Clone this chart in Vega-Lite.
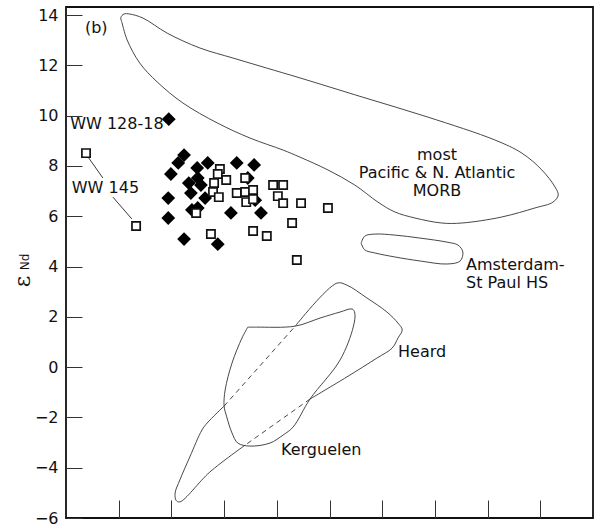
{
  "$schema": "https://vega.github.io/schema/vega-lite/v6.json",
  "width": 527,
  "height": 511,
  "autosize": {"type": "none"},
  "padding": {"left": 66, "top": 7, "right": 2, "bottom": 6},
  "background": "white",
  "config": {
    "view": {"stroke": "#111", "strokeWidth": 1.8},
    "font": "DejaVu Sans",
    "axis": {"grid": false, "domain": false}
  },
  "datasets": {
    "outlines": [
      {"seg": "MORB", "i": 0, "x": 1.06, "y": 13.72},
      {"seg": "MORB", "i": 1, "x": 1.04, "y": 13.9},
      {"seg": "MORB", "i": 2, "x": 1.1, "y": 14.04},
      {"seg": "MORB", "i": 3, "x": 1.21, "y": 14.04},
      {"seg": "MORB", "i": 4, "x": 1.46, "y": 13.88},
      {"seg": "MORB", "i": 5, "x": 1.92, "y": 13.28},
      {"seg": "MORB", "i": 6, "x": 2.54, "y": 12.69},
      {"seg": "MORB", "i": 7, "x": 3.17, "y": 12.29},
      {"seg": "MORB", "i": 8, "x": 3.81, "y": 11.89},
      {"seg": "MORB", "i": 9, "x": 4.44, "y": 11.5},
      {"seg": "MORB", "i": 10, "x": 5.62, "y": 10.74},
      {"seg": "MORB", "i": 11, "x": 6.87, "y": 9.94},
      {"seg": "MORB", "i": 12, "x": 8.14, "y": 9.03},
      {"seg": "MORB", "i": 13, "x": 8.65, "y": 8.51},
      {"seg": "MORB", "i": 14, "x": 9.03, "y": 7.84},
      {"seg": "MORB", "i": 15, "x": 9.28, "y": 7.16},
      {"seg": "MORB", "i": 16, "x": 9.34, "y": 6.84},
      {"seg": "MORB", "i": 17, "x": 9.24, "y": 6.56},
      {"seg": "MORB", "i": 18, "x": 8.9, "y": 6.33},
      {"seg": "MORB", "i": 19, "x": 8.27, "y": 5.97},
      {"seg": "MORB", "i": 20, "x": 7.51, "y": 5.73},
      {"seg": "MORB", "i": 21, "x": 7.13, "y": 5.73},
      {"seg": "MORB", "i": 22, "x": 6.62, "y": 5.93},
      {"seg": "MORB", "i": 23, "x": 6.24, "y": 6.17},
      {"seg": "MORB", "i": 24, "x": 5.92, "y": 6.56},
      {"seg": "MORB", "i": 25, "x": 5.48, "y": 7.24},
      {"seg": "MORB", "i": 26, "x": 4.97, "y": 7.84},
      {"seg": "MORB", "i": 27, "x": 4.44, "y": 8.35},
      {"seg": "MORB", "i": 28, "x": 4.12, "y": 8.63},
      {"seg": "MORB", "i": 29, "x": 3.49, "y": 9.11},
      {"seg": "MORB", "i": 30, "x": 2.87, "y": 9.71},
      {"seg": "MORB", "i": 31, "x": 2.22, "y": 10.5},
      {"seg": "MORB", "i": 32, "x": 1.73, "y": 11.34},
      {"seg": "MORB", "i": 33, "x": 1.4, "y": 12.09},
      {"seg": "MORB", "i": 34, "x": 1.16, "y": 13.01},
      {"seg": "MORB", "i": 35, "x": 1.06, "y": 13.72},

      {"seg": "Amsterdam", "i": 0, "x": 5.6, "y": 4.93},
      {"seg": "Amsterdam", "i": 1, "x": 5.67, "y": 5.21},
      {"seg": "Amsterdam", "i": 2, "x": 5.86, "y": 5.29},
      {"seg": "Amsterdam", "i": 3, "x": 6.24, "y": 5.25},
      {"seg": "Amsterdam", "i": 4, "x": 6.72, "y": 5.13},
      {"seg": "Amsterdam", "i": 5, "x": 7.23, "y": 4.97},
      {"seg": "Amsterdam", "i": 6, "x": 7.44, "y": 4.85},
      {"seg": "Amsterdam", "i": 7, "x": 7.53, "y": 4.58},
      {"seg": "Amsterdam", "i": 8, "x": 7.48, "y": 4.22},
      {"seg": "Amsterdam", "i": 9, "x": 7.23, "y": 4.1},
      {"seg": "Amsterdam", "i": 10, "x": 6.72, "y": 4.22},
      {"seg": "Amsterdam", "i": 11, "x": 6.24, "y": 4.38},
      {"seg": "Amsterdam", "i": 12, "x": 5.86, "y": 4.54},
      {"seg": "Amsterdam", "i": 13, "x": 5.67, "y": 4.66},
      {"seg": "Amsterdam", "i": 14, "x": 5.6, "y": 4.93},

      {"seg": "Kerguelen", "i": 0, "x": 3.45, "y": 1.59},
      {"seg": "Kerguelen", "i": 1, "x": 3.62, "y": 1.59},
      {"seg": "Kerguelen", "i": 2, "x": 4.35, "y": 1.63},
      {"seg": "Kerguelen", "i": 3, "x": 4.82, "y": 1.95},
      {"seg": "Kerguelen", "i": 4, "x": 5.2, "y": 2.19},
      {"seg": "Kerguelen", "i": 5, "x": 5.43, "y": 2.31},
      {"seg": "Kerguelen", "i": 6, "x": 5.48, "y": 2.15},
      {"seg": "Kerguelen", "i": 7, "x": 5.45, "y": 1.59},
      {"seg": "Kerguelen", "i": 8, "x": 5.2, "y": 0.28},
      {"seg": "Kerguelen", "i": 9, "x": 4.63, "y": -1.27},
      {"seg": "Kerguelen", "i": 10, "x": 4.31, "y": -2.38},
      {"seg": "Kerguelen", "i": 11, "x": 4.12, "y": -2.7},
      {"seg": "Kerguelen", "i": 12, "x": 3.87, "y": -3.02},
      {"seg": "Kerguelen", "i": 13, "x": 3.49, "y": -3.14},
      {"seg": "Kerguelen", "i": 14, "x": 3.26, "y": -3.02},
      {"seg": "Kerguelen", "i": 15, "x": 3.15, "y": -2.62},
      {"seg": "Kerguelen", "i": 16, "x": 3.05, "y": -1.98},
      {"seg": "Kerguelen", "i": 17, "x": 3.0, "y": -1.55},
      {"seg": "Kerguelen", "i": 18, "x": 3.02, "y": -0.91},
      {"seg": "Kerguelen", "i": 19, "x": 3.15, "y": 0.16},
      {"seg": "Kerguelen", "i": 20, "x": 3.34, "y": 1.16},
      {"seg": "Kerguelen", "i": 21, "x": 3.45, "y": 1.59},

      {"seg": "Heard lower", "i": 0, "x": 3.4, "y": -3.1},
      {"seg": "Heard lower", "i": 1, "x": 2.73, "y": -4.17},
      {"seg": "Heard lower", "i": 2, "x": 2.16, "y": -5.36},
      {"seg": "Heard lower", "i": 3, "x": 2.09, "y": -5.3},
      {"seg": "Heard lower", "i": 4, "x": 2.07, "y": -5.01},
      {"seg": "Heard lower", "i": 5, "x": 2.16, "y": -4.49},
      {"seg": "Heard lower", "i": 6, "x": 2.35, "y": -3.57},
      {"seg": "Heard lower", "i": 7, "x": 2.58, "y": -2.5},
      {"seg": "Heard lower", "i": 8, "x": 2.68, "y": -2.22},
      {"seg": "Heard lower", "i": 9, "x": 3.0, "y": -1.55},

      {"seg": "Heard upper", "i": 0, "x": 4.35, "y": 1.63},
      {"seg": "Heard upper", "i": 1, "x": 5.14, "y": 3.34},
      {"seg": "Heard upper", "i": 2, "x": 5.33, "y": 3.26},
      {"seg": "Heard upper", "i": 3, "x": 5.71, "y": 2.75},
      {"seg": "Heard upper", "i": 4, "x": 6.09, "y": 2.19},
      {"seg": "Heard upper", "i": 5, "x": 6.3, "y": 1.75},
      {"seg": "Heard upper", "i": 6, "x": 6.38, "y": 1.48},
      {"seg": "Heard upper", "i": 7, "x": 6.3, "y": 1.16},
      {"seg": "Heard upper", "i": 8, "x": 6.19, "y": 0.76},
      {"seg": "Heard upper", "i": 9, "x": 5.9, "y": 0.36},
      {"seg": "Heard upper", "i": 10, "x": 5.33, "y": -0.39},
      {"seg": "Heard upper", "i": 11, "x": 4.63, "y": -1.27}
    ],
    "hidden": [
      {"seg": "Heard a", "i": 0, "x": 3.0, "y": -1.55},
      {"seg": "Heard a", "i": 1, "x": 4.35, "y": 1.63},
      {"seg": "Heard b", "i": 0, "x": 4.63, "y": -1.27},
      {"seg": "Heard b", "i": 1, "x": 3.4, "y": -3.1}
    ],
    "samples": [
      {"group": "A", "x": 2.24, "y": 8.43},
      {"group": "A", "x": 2.13, "y": 8.12},
      {"group": "A", "x": 1.99, "y": 7.68},
      {"group": "A", "x": 1.94, "y": 6.72},
      {"group": "A", "x": 1.94, "y": 5.93},
      {"group": "A", "x": 2.24, "y": 5.09},
      {"group": "A", "x": 2.88, "y": 4.89},
      {"group": "A", "x": 1.95, "y": 9.86},
      {"group": "A", "x": 2.69, "y": 8.12},
      {"group": "A", "x": 2.49, "y": 7.92},
      {"group": "A", "x": 2.5, "y": 7.52},
      {"group": "A", "x": 2.33, "y": 7.32},
      {"group": "A", "x": 2.56, "y": 7.24},
      {"group": "A", "x": 2.37, "y": 6.92},
      {"group": "A", "x": 2.64, "y": 6.72},
      {"group": "A", "x": 2.39, "y": 6.25},
      {"group": "A", "x": 2.5, "y": 6.33},
      {"group": "A", "x": 3.13, "y": 6.13},
      {"group": "A", "x": 3.24, "y": 8.12},
      {"group": "A", "x": 3.57, "y": 8.04},
      {"group": "A", "x": 3.45, "y": 7.52},
      {"group": "A", "x": 3.7, "y": 6.13},
      {"group": "A", "x": 3.59, "y": 6.64},
      {"group": "B", "x": 0.38, "y": 8.51},
      {"group": "B", "x": 1.33, "y": 5.61},
      {"group": "B", "x": 2.92, "y": 7.88},
      {"group": "B", "x": 2.88, "y": 7.68},
      {"group": "B", "x": 3.04, "y": 7.44},
      {"group": "B", "x": 2.81, "y": 7.32},
      {"group": "B", "x": 2.79, "y": 6.96},
      {"group": "B", "x": 2.9, "y": 6.76},
      {"group": "B", "x": 2.47, "y": 6.13},
      {"group": "B", "x": 2.75, "y": 5.29},
      {"group": "B", "x": 3.4, "y": 7.52},
      {"group": "B", "x": 3.24, "y": 6.92},
      {"group": "B", "x": 3.4, "y": 6.96},
      {"group": "B", "x": 3.55, "y": 7.04},
      {"group": "B", "x": 3.42, "y": 6.56},
      {"group": "B", "x": 3.55, "y": 6.68},
      {"group": "B", "x": 3.93, "y": 7.24},
      {"group": "B", "x": 4.12, "y": 7.24},
      {"group": "B", "x": 4.02, "y": 6.8},
      {"group": "B", "x": 4.12, "y": 6.52},
      {"group": "B", "x": 4.46, "y": 6.52},
      {"group": "B", "x": 4.97, "y": 6.33},
      {"group": "B", "x": 4.29, "y": 5.73},
      {"group": "B", "x": 3.55, "y": 5.41},
      {"group": "B", "x": 3.81, "y": 5.21},
      {"group": "B", "x": 4.38, "y": 4.26}
    ],
    "leaders": [
      {"x": 0.42, "y": 8.35, "x2": 0.7, "y2": 7.52},
      {"x": 0.89, "y": 6.76, "x2": 1.25, "y2": 5.89}
    ],
    "labelsLeft": [
      {"x": 0.36, "y": 13.48, "text": "(b)"},
      {"x": 0.08, "y": 9.67, "text": "WW 128-18"},
      {"x": 0.11, "y": 7.12, "text": "WW 145"},
      {"x": 7.59, "y": 4.06, "text": "Amsterdam-"},
      {"x": 7.59, "y": 3.34, "text": "St Paul HS"},
      {"x": 6.3, "y": 0.6, "text": "Heard"},
      {"x": 4.08, "y": -3.3, "text": "Kerguelen"}
    ],
    "labelsCenter": [
      {"x": 7.04, "y": 8.43, "text": "most"},
      {"x": 7.04, "y": 7.72, "text": "Pacific & N. Atlantic"},
      {"x": 7.04, "y": 7.0, "text": "MORB"}
    ],
    "subscript": [
      {"x": -0.78, "y": 4.18, "text": "Nd"}
    ]
  },
  "encoding": {
    "x": {"field": "x", "type": "quantitative", "scale": {"domain": [0, 10], "nice": false, "zero": false}},
    "y": {"field": "y", "type": "quantitative", "scale": {"domain": [-6, 14.32], "nice": false, "zero": false}}
  },
  "layer": [
    {
      "data": {"name": "outlines"},
      "mark": {"type": "line", "interpolate": "catmull-rom", "stroke": "#333", "strokeWidth": 0.9},
      "encoding": {
        "x": {"field": "x", "type": "quantitative", "axis": {"orient": "bottom", "values": [1, 2, 3, 4, 5, 6, 7, 8, 9], "labels": false, "tickSize": -18, "tickColor": "#333", "tickWidth": 1, "title": null, "domain": false}},
        "y": {"field": "y", "type": "quantitative", "axis": {"orient": "left", "values": [-6, -4, -2, 0, 2, 4, 6, 8, 10, 12, 14], "tickSize": -16, "tickColor": "#333", "tickWidth": 1, "labelPadding": 24, "labelFontSize": 16, "labelColor": "#111", "labelFont": "DejaVu Sans", "title": "ε", "titleFont": "DejaVu Serif", "titleFontSize": 22, "titleFontWeight": "normal", "titleColor": "#111", "titleAngle": 270, "titleX": -44, "titleY": 274, "titleAlign": "center", "titleBaseline": "middle", "domain": false}},
        "detail": {"field": "seg", "type": "nominal"},
        "order": {"field": "i", "type": "quantitative"}
      }
    },
    {
      "data": {"name": "hidden"},
      "mark": {"type": "line", "stroke": "#333", "strokeWidth": 0.9, "strokeDash": [5, 4]},
      "encoding": {
        "detail": {"field": "seg", "type": "nominal"},
        "order": {"field": "i", "type": "quantitative"}
      }
    },
    {
      "data": {"name": "leaders"},
      "mark": {"type": "rule", "stroke": "#222", "strokeWidth": 0.9},
      "encoding": {
        "x2": {"field": "x2"},
        "y2": {"field": "y2"}
      }
    },
    {
      "data": {"name": "samples"},
      "mark": {"type": "point", "filled": false, "strokeWidth": 1.7, "opacity": 1},
      "encoding": {
        "shape": {"field": "group", "type": "nominal", "scale": {"domain": ["A", "B"], "range": ["diamond", "square"]}, "legend": null},
        "fill": {"field": "group", "type": "nominal", "scale": {"domain": ["A", "B"], "range": ["#000000", "#ffffff"]}, "legend": null},
        "stroke": {"field": "group", "type": "nominal", "scale": {"domain": ["A", "B"], "range": ["#000000", "#111111"]}, "legend": null},
        "size": {"field": "group", "type": "nominal", "scale": {"domain": ["A", "B"], "range": [130, 68]}, "legend": null}
      }
    },
    {
      "data": {"name": "labelsLeft"},
      "mark": {"type": "text", "align": "left", "baseline": "middle", "font": "DejaVu Sans", "fontSize": 16, "color": "#111"},
      "encoding": {"text": {"field": "text"}}
    },
    {
      "data": {"name": "labelsCenter"},
      "mark": {"type": "text", "align": "center", "baseline": "middle", "font": "DejaVu Sans", "fontSize": 16, "color": "#111"},
      "encoding": {"text": {"field": "text"}}
    },
    {
      "data": {"name": "subscript"},
      "mark": {"type": "text", "align": "center", "baseline": "middle", "font": "DejaVu Sans", "fontSize": 12, "angle": 270, "color": "#111"},
      "encoding": {"text": {"field": "text"}}
    }
  ]
}
